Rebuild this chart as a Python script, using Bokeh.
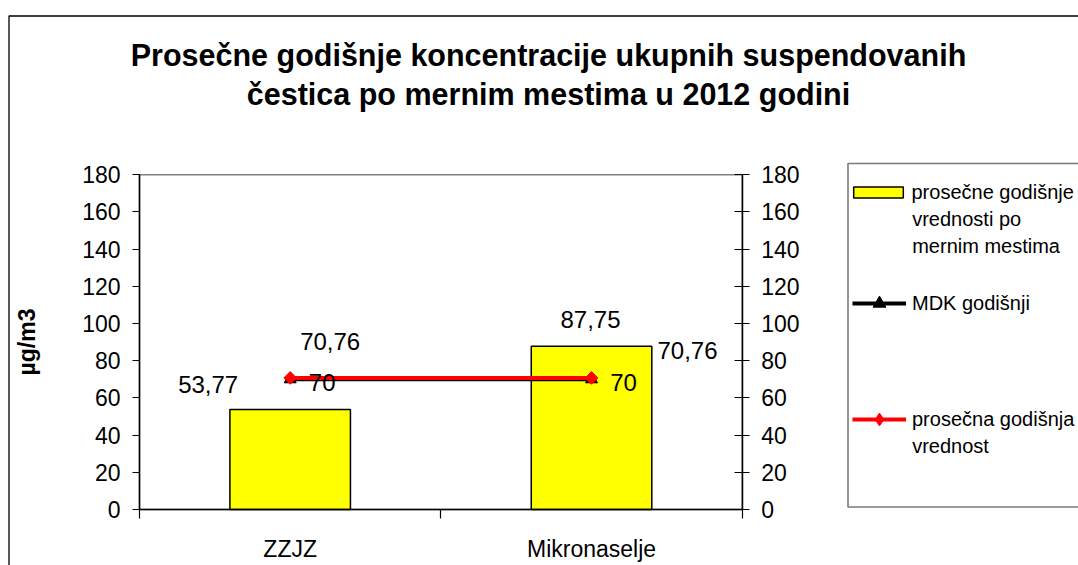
import numpy as np
from bokeh.plotting import figure
from bokeh.models import (Range1d, LinearAxis, FixedTicker, Label, Legend,
                          LegendItem, BoxAnnotation)
from bokeh.embed import file_html
from bokeh.resources import INLINE

# ---------------- data ----------------
title_lines = ["Prosečne godišnje koncentracije ukupnih suspendovanih",
               "čestica po mernim mestima u 2012 godini"]
categories = ["ZZJZ", "Mikronaselje"]
avg_by_site = [53.77, 87.75]          # prosečne godišnje vrednosti po mernim mestima
mdk_annual = [70, 70]                 # MDK godišnji
avg_annual = [70.76, 70.76]           # prosečna godišnja vrednost
y_ticks = [0, 20, 40, 60, 80, 100, 120, 140, 160, 180]
y_axis_label = "µg/m3"
legend_first_lines = ["prosečne godišnje", "MDK godišnji", "prosečna godišnja"]
legend_more_lines = [["vrednosti po", "mernim mestima"], [], ["vrednost"]]

FONT = "Liberation Sans"

# ---------------- layout (pixels) ----------------
W, H = 1078, 565
PL, PR, PT, PB = 139, 741.7, 174.3, 509      # plot area edges on the canvas
ncat = len(categories)
ymax = y_ticks[-1]
xpx = (PR - PL) / ncat
ypx = (PB - PT) / ymax


def fmt(v):
    return f"{v:g}".replace(".", ",")


p = figure(width=W, height=H, output_backend="svg", toolbar_location=None,
           x_range=Range1d(-PL / xpx, (W - PL) / xpx),
           y_range=Range1d(-(H - PB) / ypx, PB / ypx),
           x_axis_type=None, y_axis_type=None, min_border=0)
p.background_fill_color = "white"
p.border_fill_color = "white"
p.outline_line_color = None

# outer chart border, plot-area border, legend box
p.add_layout(BoxAnnotation(left=8.5, right=3000, top=15.5, bottom=3000,
                           left_units="canvas", right_units="canvas",
                           top_units="canvas", bottom_units="canvas",
                           fill_alpha=0, line_color="black", line_alpha=1,
                           line_width=1.3, level="underlay"))
p.add_layout(BoxAnnotation(left=0, right=ncat, bottom=0, top=ymax,
                           fill_alpha=0, line_color="#808080", line_alpha=1,
                           line_width=1.5, level="underlay"))
p.add_layout(BoxAnnotation(left=847.5, right=3000, top=163, bottom=506.5,
                           left_units="canvas", right_units="canvas",
                           top_units="canvas", bottom_units="canvas",
                           fill_alpha=0, line_color="#7a7a7a", line_alpha=1,
                           line_width=1.6, level="underlay"))

# axes
yl = LinearAxis(ticker=FixedTicker(ticks=y_ticks), axis_label=y_axis_label,
                fixed_location=0, bounds=(0, ymax))
yr = LinearAxis(ticker=FixedTicker(ticks=y_ticks), fixed_location=ncat,
                bounds=(0, ymax))
for ax, tin, tout in ((yl, 0, 7), (yr, 8, 7)):
    ax.axis_line_color = "black"
    ax.axis_line_width = 1.5
    ax.major_tick_line_color = "black"
    ax.major_tick_line_width = 1.2
    ax.major_tick_in = tin
    ax.major_tick_out = tout
    ax.minor_tick_line_color = None
    ax.major_label_text_font = FONT
    ax.major_label_text_font_size = "23px"
    ax.major_label_text_color = "black"
    ax.major_label_standoff = 12
yl.axis_label_text_font = FONT
yl.axis_label_text_font_size = "23px"
yl.axis_label_text_font_style = "bold"
yl.axis_label_text_color = "black"
yl.axis_label_standoff = 39
p.add_layout(yl, "left")
p.add_layout(yr, "right")

edges = list(range(ncat + 1))
xb = LinearAxis(ticker=FixedTicker(ticks=edges), fixed_location=0,
                bounds=(0, ncat), major_label_overrides={e: "" for e in edges})
xb.axis_line_color = "black"
xb.axis_line_width = 1.5
xb.major_tick_line_color = "black"
xb.major_tick_line_width = 1.2
xb.major_tick_in = 0
xb.major_tick_out = 9
xb.minor_tick_line_color = None
p.add_layout(xb, "below")

xs = [i + 0.5 for i in range(ncat)]
xc = LinearAxis(ticker=FixedTicker(ticks=xs), fixed_location=0,
                bounds=(0, ncat),
                major_label_overrides={x: c for x, c in zip(xs, categories)})
xc.axis_line_color = None
xc.major_tick_line_color = None
xc.minor_tick_line_color = None
xc.major_tick_in = 0
xc.major_tick_out = 0
xc.major_label_standoff = 26
xc.major_label_text_font = FONT
xc.major_label_text_font_size = "23px"
xc.major_label_text_color = "black"
p.add_layout(xc, "below")

# glyphs
bars = p.vbar(x=xs, top=avg_by_site, width=0.4, fill_color="#FFFF00",
              line_color="black", line_width=1.5)
mdk_line = p.line(xs, mdk_annual, line_color="black", line_width=4)
mdk_pts = p.scatter(xs, mdk_annual, marker="triangle", size=12,
                    fill_color="black", line_color="black")
avg_line = p.line(xs, avg_annual, line_color="#FF0000", line_width=4)
avg_pts = p.scatter(xs, avg_annual, marker="square", angle=np.pi / 4, size=9,
                    fill_color="#FF0000", line_color="#FF0000")
# legend key for the red series (diamond shape, not drawn in the plot)
avg_key = p.scatter(xs, avg_annual, marker="diamond", fill_color="#FF0000",
                    line_color="#FF0000", visible=False)

# data labels (offsets in px: +right, +up)
bar_label_off = [(-82, 25), (-1, 27)]
avg_label_off = [(40, 36), (96, 27)]
mdk_label_off = [(32, -3), (32, -3)]
for vals, offs in ((avg_by_site, bar_label_off), (avg_annual, avg_label_off),
                   (mdk_annual, mdk_label_off)):
    for x, v, (dx, dy) in zip(xs, vals, offs):
        p.add_layout(Label(x=x, y=v, x_offset=dx, y_offset=dy, text=fmt(v),
                           text_align="center", text_baseline="middle",
                           text_font=FONT, text_font_size="24px",
                           text_color="black"))

# title (screen units: from bottom-left of canvas)
for ty, t in zip((H - 54, H - 93), title_lines):
    p.add_layout(Label(x=548, y=ty, x_units="screen", y_units="screen", text=t,
                       text_align="center", text_baseline="middle",
                       text_font=FONT, text_font_size="30.5px",
                       text_font_style="bold", text_color="black"))

# legends (one per entry)
legend_specs = [
    ([bars], 62, 14, 3, (846.5, H - 203.5)),
    ([mdk_line, mdk_pts], 54, 32, 6, (852, H - 319)),
    ([avg_line, avg_key], 54, 32, 6, (852, H - 435)),
]
for lbl, (rends, gw, gh, so, loc) in zip(legend_first_lines, legend_specs):
    lg = Legend(items=[LegendItem(label=lbl, renderers=rends)], location=loc,
                glyph_width=gw, glyph_height=gh, label_standoff=so,
                label_height=gh, padding=0, margin=0, spacing=0,
                label_text_font=FONT, label_text_font_size="20px",
                label_text_color="black", border_line_alpha=0,
                background_fill_alpha=0, inactive_fill_alpha=0)
    p.add_layout(lg)

# continuation lines of legend labels
more_y = [[218, 245], [], [445]]
for lines, ys in zip(legend_more_lines, more_y):
    for t, ty in zip(lines, ys):
        p.add_layout(Label(x=911.7, y=H - ty, x_units="screen", y_units="screen",
                           text=t, text_align="left", text_baseline="middle",
                           text_font=FONT, text_font_size="20px",
                           text_color="black"))

open("out.html", "w").write(file_html(p, INLINE))
